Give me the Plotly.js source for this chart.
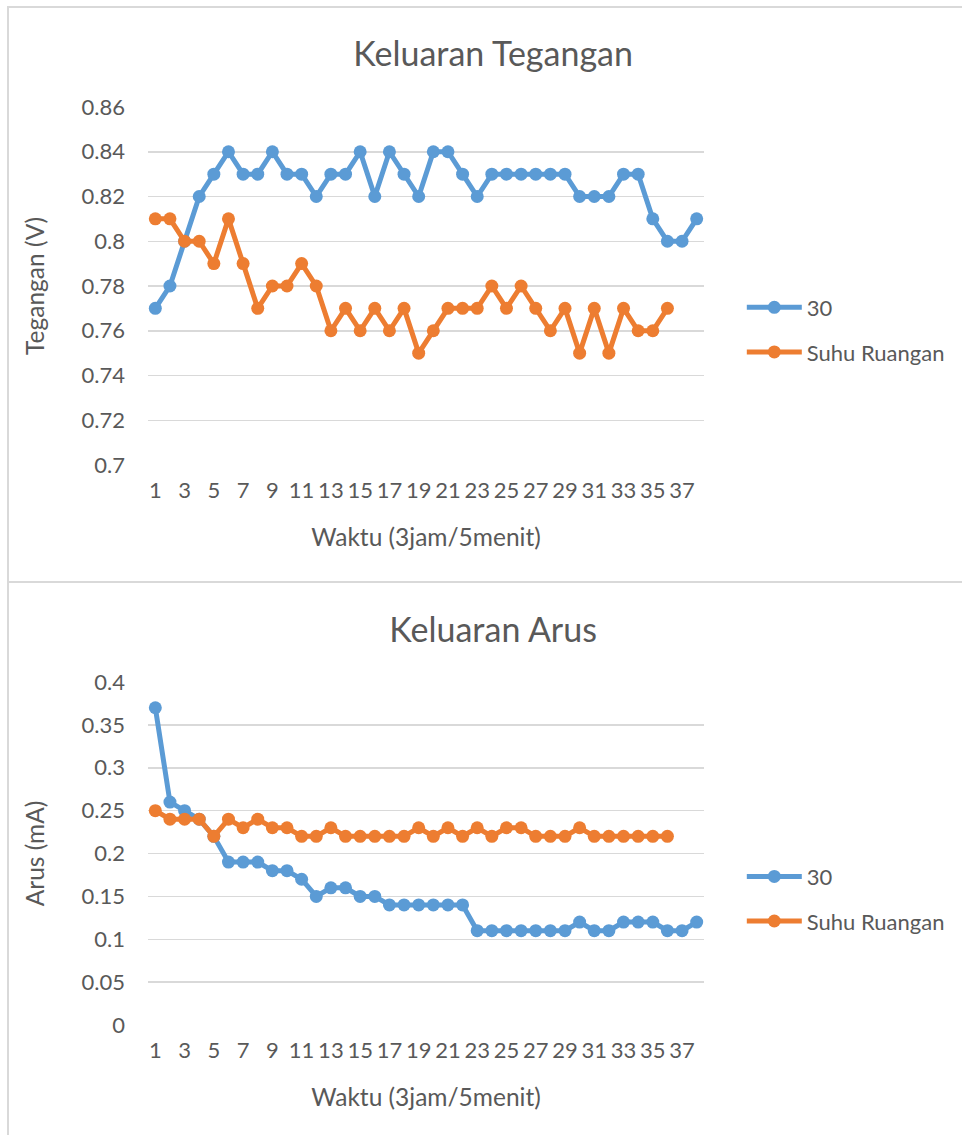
<!DOCTYPE html>
<html>
<head>
<meta charset="utf-8">
<script src="https://cdn.plot.ly/plotly-3.0.1.min.js"></script>
<style>
  html, body { margin:0; padding:0; background:#fff; overflow:hidden; width:962px; height:1135px; }
  .wrap { position:absolute; left:7px; border-left:2px solid #d9d9d9; border-top:2px solid #d9d9d9; }
  #w1 { top:6px; width:953px; height:574px; }
  #w2 { top:581px; width:953px; height:552px; }
  #c1 { width:953px; height:574px; }
  #c2 { width:953px; height:552px; }
</style>
</head>
<body>
<div class="wrap" id="w1"><div id="c1"></div></div>
<div class="wrap" id="w2"><div id="c2"></div></div>
<script>
// X categories (Waktu, 3jam/5menit)
const waktu = [1,2,3,4,5,6,7,8,9,10,11,12,13,14,15,16,17,18,19,20,21,22,23,24,25,26,27,28,29,30,31,32,33,34,35,36,37,38];
const xTicks = [1,3,5,7,9,11,13,15,17,19,21,23,25,27,29,31,33,35,37];

// Keluaran Tegangan (V)
const tegangan30 = [0.77,0.78,0.80,0.82,0.83,0.84,0.83,0.83,0.84,0.83,0.83,0.82,0.83,0.83,0.84,0.82,0.84,0.83,0.82,0.84,0.84,0.83,0.82,0.83,0.83,0.83,0.83,0.83,0.83,0.82,0.82,0.82,0.83,0.83,0.81,0.80,0.80,0.81];
const teganganRuang = [0.81,0.81,0.80,0.80,0.79,0.81,0.79,0.77,0.78,0.78,0.79,0.78,0.76,0.77,0.76,0.77,0.76,0.77,0.75,0.76,0.77,0.77,0.77,0.78,0.77,0.78,0.77,0.76,0.77,0.75,0.77,0.75,0.77,0.76,0.76,0.77];

// Keluaran Arus (mA)
const arus30 = [0.37,0.26,0.25,0.24,0.22,0.19,0.19,0.19,0.18,0.18,0.17,0.15,0.16,0.16,0.15,0.15,0.14,0.14,0.14,0.14,0.14,0.14,0.11,0.11,0.11,0.11,0.11,0.11,0.11,0.12,0.11,0.11,0.12,0.12,0.12,0.11,0.11,0.12];
const arusRuang = [0.25,0.24,0.24,0.24,0.22,0.24,0.23,0.24,0.23,0.23,0.22,0.22,0.23,0.22,0.22,0.22,0.22,0.22,0.23,0.22,0.23,0.22,0.23,0.22,0.23,0.23,0.22,0.22,0.22,0.23,0.22,0.22,0.22,0.22,0.22,0.22];

const seriesNames = ["30", "Suhu Ruangan"];
const BLUE = "#5B9BD5", ORANGE = "#ED7D31";
const FONT = "Lato, 'Open Sans', sans-serif";
const TXT = "#595959";

function trace(y, name, color, grp) {
  return {
    x: waktu.slice(0, y.length), y: y, name: name, type: "scatter", mode: "lines+markers",
    line: {color: color, width: 5}, marker: {color: color, size: 13},
    legendgroup: grp
  };
}

function layout(title, ytitle, yrange, dtick, margin, legY) {
  return {
    width: 953, height: margin.h,
    margin: {l: 139, r: 252, t: 99, b: margin.b, pad: 0},
    paper_bgcolor: "#fff", plot_bgcolor: "#fff",
    font: {family: FONT, color: TXT, size: 22},
    title: {text: title, font: {family: FONT, size: 34, color: TXT}, xref: "container", x: 0.508, xanchor: "center", yref: "container", y: margin.ty, yanchor: "middle"},
    xaxis: {
      range: [0.5, 38.5], tickmode: "array", tickvals: xTicks, ticktext: xTicks.map(String),
      showgrid: false, zeroline: false, showline: false, ticks: "",
      tickfont: {size: 22, color: TXT}, ticklabelstandoff: 10,
      title: {text: "Waktu (3jam/5menit)", font: {size: 24.5, color: TXT}, standoff: 26}
    },
    yaxis: {
      range: yrange, dtick: dtick, tick0: 0, showgrid: true, gridcolor: "#d9d9d9", gridwidth: 1.5,
      zeroline: false, showline: false, ticks: "",
      tickfont: {size: 22, color: TXT}, ticklabelstandoff: 22,
      title: {text: ytitle, font: {size: 24.5, color: TXT}, standoff: 29}
    },
    showlegend: true,
    legend: {x: 1.068, xanchor: "left", y: legY, yanchor: "middle", font: {size: 22, color: TXT},
      traceorder: "grouped", tracegroupgap: 13, itemwidth: 55, bgcolor: "rgba(0,0,0,0)"}
  };
}

Plotly.newPlot("c1",
  [trace(tegangan30, seriesNames[0], BLUE, "a"), trace(teganganRuang, seriesNames[1], ORANGE, "b")],
  layout("Keluaran Tegangan", "Tegangan (V)", [0.7, 0.86], 0.02, {h: 574, b: 117, ty: 0.92}, 0.377),
  {displayModeBar: false, staticPlot: true});

Plotly.newPlot("c2",
  [trace(arus30, seriesNames[0], BLUE, "a"), trace(arusRuang, seriesNames[1], ORANGE, "b")],
  layout("Keluaran Arus", "Arus (mA)", [0, 0.4], 0.05, {h: 552, b: 110, ty: 0.915}, 0.367),
  {displayModeBar: false, staticPlot: true});
</script>
</body>
</html>
